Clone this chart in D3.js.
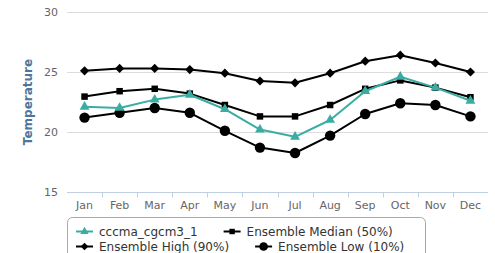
<!DOCTYPE html>
<html>
<head>
<meta charset="utf-8">
<script src="https://cdn.jsdelivr.net/npm/d3@7"></script>
<style>
  body { margin: 0; background: #fff; }
  svg { display: block; font-family: "DejaVu Sans", Verdana, sans-serif; }
  .tick-label { fill: #666; font-size: 11px; }
  .legend-label { fill: #333; font-size: 12px; }
</style>
</head>
<body>
<svg id="chart" width="495" height="253"></svg>
<script>
const months = ['Jan', 'Feb', 'Mar', 'Apr', 'May', 'Jun', 'Jul', 'Aug', 'Sep', 'Oct', 'Nov', 'Dec'];
const yTicks = [15, 20, 25, 30];

const cccma = [22.1, 22.0, 22.7, 23.1, 21.9, 20.2, 19.6, 21.0, 23.4, 24.6, 23.7, 22.6];
const ensembleMedian = [22.95, 23.4, 23.6, 23.2, 22.25, 21.3, 21.3, 22.25, 23.6, 24.3, 23.7, 22.9];
const ensembleHigh = [25.1, 25.3, 25.3, 25.2, 24.9, 24.25, 24.1, 24.9, 25.9, 26.4, 25.75, 25.0];
const ensembleLow = [21.2, 21.6, 22.0, 21.6, 20.1, 18.7, 18.25, 19.7, 21.5, 22.4, 22.25, 21.3];

// legend order; z = draw order (cccma on top)
const series = [
  { name: 'cccma_cgcm3_1', values: cccma, color: '#3aada3', symbol: d3.symbolTriangle, size: 42, rotate: 0, z: 4 },
  { name: 'Ensemble Median (50%)', values: ensembleMedian, color: '#000', symbol: d3.symbolSquare, size: 42, rotate: 0, z: 2 },
  { name: 'Ensemble High (90%)', values: ensembleHigh, color: '#000', symbol: d3.symbolSquare, size: 42, rotate: 45, z: 1 },
  { name: 'Ensemble Low (10%)', values: ensembleLow, color: '#000', symbol: d3.symbolCircle, size: 85, rotate: 0, z: 3 },
];

const margin = { left: 67, right: 7, top: 12, bottom: 61 };
const W = 495, H = 253;
const svg = d3.select('#chart');

const x = d3.scaleBand().domain(months).range([margin.left, W - margin.right]);
const y = d3.scaleLinear().domain([15, 30]).range([H - margin.bottom, margin.top]);
const cx = m => x(m) + x.bandwidth() / 2;

// grid lines
svg.append('g')
  .selectAll('line')
  .data(yTicks.filter(t => t !== 15))
  .join('line')
  .attr('x1', margin.left)
  .attr('x2', W - margin.right)
  .attr('y1', d => Math.round(y(d)) + 0.5)
  .attr('y2', d => Math.round(y(d)) + 0.5)
  .attr('stroke', '#dcdcdc');

// y tick labels
svg.append('g')
  .selectAll('text')
  .data(yTicks)
  .join('text')
  .attr('class', 'tick-label')
  .attr('x', margin.left - 9)
  .attr('y', d => y(d) + 4)
  .attr('text-anchor', 'end')
  .text(d => d);

// y title
svg.append('text')
  .attr('transform', `translate(32, ${y(22.5)}) rotate(-90)`)
  .attr('text-anchor', 'middle')
  .attr('fill', '#4d759e')
  .attr('font-size', 12)
  .attr('font-weight', 'bold')
  .text('Temperature');

// x axis line + ticks
const baseY = Math.round(y(15)) + 0.5;
svg.append('line')
  .attr('x1', margin.left).attr('x2', W - margin.right)
  .attr('y1', baseY).attr('y2', baseY)
  .attr('stroke', '#c0d0e0');

svg.append('g')
  .selectAll('line')
  .data(months.slice(1))
  .join('line')
  .attr('x1', d => Math.round(x(d)) + 0.5)
  .attr('x2', d => Math.round(x(d)) + 0.5)
  .attr('y1', baseY)
  .attr('y2', baseY + 5)
  .attr('stroke', '#c0d0e0');

svg.append('g')
  .selectAll('text')
  .data(months)
  .join('text')
  .attr('class', 'tick-label')
  .attr('x', d => cx(d))
  .attr('y', baseY + 16)
  .attr('text-anchor', 'middle')
  .text(d => d);

// series
const line = d3.line()
  .x((d, i) => cx(months[i]))
  .y(d => y(d));

const $series = svg.append('g')
  .selectAll('g')
  .data(series.slice().sort((a, b) => a.z - b.z))
  .join('g');

$series.append('path')
  .attr('d', d => line(d.values))
  .attr('fill', 'none')
  .attr('stroke', d => d.color)
  .attr('stroke-width', 2)
  .attr('stroke-linejoin', 'round');

$series.each(function (s) {
  d3.select(this)
    .selectAll('path.marker')
    .data(s.values)
    .join('path')
    .attr('class', 'marker')
    .attr('transform', (d, i) => `translate(${cx(months[i])}, ${y(d)}) rotate(${s.rotate})`)
    .attr('d', d3.symbol(s.symbol, s.size))
    .attr('fill', s.color);
});

// legend
const legend = svg.append('g');
legend.append('rect')
  .attr('x', 67.5)
  .attr('y', 217.5)
  .attr('width', 358)
  .attr('height', 60)
  .attr('rx', 5)
  .attr('fill', '#fff')
  .attr('stroke', '#a8a8a8');

const rows = [[series[0], series[1]], [series[2], series[3]]];
rows.forEach((row, r) => {
  let lx = 76;
  const ly = 231.5 + r * 15;
  row.forEach(s => {
    const g = legend.append('g').attr('transform', `translate(${lx}, ${ly})`);
    g.append('line')
      .attr('x1', 0).attr('x2', 17)
      .attr('stroke', s.color)
      .attr('stroke-width', 2);
    g.append('path')
      .attr('transform', `translate(8.5, 0) rotate(${s.rotate})`)
      .attr('d', d3.symbol(s.symbol, s.size * 0.7))
      .attr('fill', s.color);
    const t = g.append('text')
      .attr('class', 'legend-label')
      .attr('x', 23)
      .attr('y', 4.5)
      .text(s.name);
    lx += 23 + t.node().getComputedTextLength() + 26;
  });
});
</script>
</body>
</html>
